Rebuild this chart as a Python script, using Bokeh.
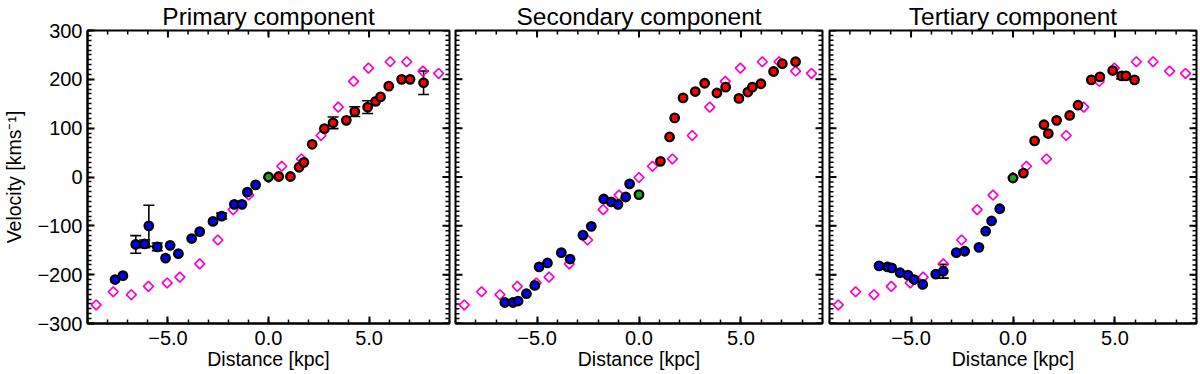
import numpy as np
from bokeh.plotting import figure
from bokeh.models import (Range1d, FixedTicker, LinearAxis, Whisker, TeeHead,
                          ColumnDataSource)
from bokeh.layouts import row
from bokeh.embed import file_html
from bokeh.resources import INLINE

# ---------------- data ----------------
titles = ["Primary component", "Secondary component", "Tertiary component"]
x_title = "Distance [kpc]"
y_title = "Velocity [kms⁻¹]"

# rotation-curve reference (magenta diamonds), same in every panel
model_x = [-8.57, -7.72, -6.82, -5.97, -5.04, -4.41, -3.42, -2.52, -1.76, -0.98, 0.0,
           0.66, 1.64, 2.61, 3.47, 4.23, 4.97, 6.05, 6.87, 7.68, 8.46]
model_v = [-262, -235, -241, -224, -217, -205, -178, -129, -67, -37, -1,
           22, 37, 85, 143, 196, 223, 236, 236, 217, 212]

# primary component
prim_x = [-7.63, -7.24, -6.60, -6.16, -5.95, -5.53, -5.12, -4.89, -4.48, -3.82, -3.42,
          -2.76, -2.33, -1.70, -1.32, -1.05, -0.64, 0.0, 0.51, 1.09, 1.52, 1.76, 2.17,
          2.78, 3.21, 3.87, 4.29, 4.93, 5.33, 5.57, 5.98, 6.62, 7.04, 7.71]
prim_v = [-210, -202, -138, -137, -100, -143, -166, -140, -157, -126, -112,
          -91, -80, -56, -56, -31, -16, 0, 1, 1, 20, 30, 67,
          99, 111, 116, 134, 143, 155, 164, 186, 200, 200, 193]
prim_e = [0, 0, 18, 8, 42, 8, 0, 0, 0, 0, 0,
          0, 6, 0, 0, 0, 0, 0, 0, 0, 0, 0, 0,
          0, 12, 0, 10, 13, 0, 0, 0, 0, 0, 24]

# secondary component
sec_x = [-6.58, -6.18, -5.93, -5.52, -5.11, -4.90, -4.49, -3.81, -3.38, -2.75, -2.34,
         -1.73, -1.36, -1.03, -0.65, -0.46, 0.0, 1.05, 1.50, 1.75, 2.16, 2.76, 3.22,
         3.82, 4.25, 4.90, 5.34, 5.56, 5.98, 6.60, 7.03, 7.68]
sec_v = [-257, -257, -254, -239, -222, -184, -176, -155, -168, -119, -101,
         -45, -51, -56, -41, -14, -36, 32, 82, 121, 162, 175, 192,
         172, 184, 161, 174, 184, 191, 216, 232, 236]
sec_e = [0] * len(sec_x)

# tertiary component
ter_x = [-6.57, -6.16, -5.95, -5.54, -5.15, -4.85, -4.43, -3.79, -3.42, -2.78, -2.37,
         -1.67, -1.34, -1.05, -0.65, 0.0, 0.51, 1.06, 1.52, 1.73, 2.14, 2.78, 3.19,
         3.84, 4.26, 4.89, 5.33, 5.54, 5.96]
ter_v = [-182, -184, -186, -196, -201, -210, -220, -199, -193, -155, -152,
         -144, -111, -90, -65, -2, 8, 74, 107, 89, 116, 126, 147,
         199, 205, 218, 207, 207, 199]
ter_e = [0, 0, 0, 0, 0, 0, 0, 0, 14, 0, 0,
         0, 0, 0, 0, 0, 0, 0, 0, 0, 0, 0, 0,
         0, 0, 0, 6, 0, 0]

x_major = [-5, 0, 5]
x_labels = ["−5.0", "0.0", "5.0"]
x_minor = list(range(-9, 10))
y_major = [-300, -200, -100, 0, 100, 200, 300]
y_labels = ["−300", "−200", "−100", "0", "100", "200", "300"]
y_minor = list(range(-300, 301, 10))

# ---------------- style ----------------
FONT = "Liberation Sans"
TICK_FS = "20px"
LABEL_FS = "19.5px"
BLUE, RED, GREEN, PINK = "#0000FF", "#FF0000", "#1FA01F", "#FF00CC"
XR, YR = (-9, 9), (-300, 300)
MAJ, MIN = 7, 4
FW = 367
H = 374


def style_axis(ax, ticker, overrides):
    ax.ticker = ticker
    ax.axis_line_width = 2
    ax.axis_line_color = "black"
    ax.major_tick_in = MAJ
    ax.major_tick_out = 0
    ax.minor_tick_in = MIN
    ax.minor_tick_out = 0
    ax.major_tick_line_width = 2
    ax.minor_tick_line_width = 1.5
    ax.major_tick_line_color = "black"
    ax.minor_tick_line_color = "black"
    ax.major_label_text_font = FONT
    ax.major_label_text_font_size = TICK_FS
    ax.major_label_text_color = "black"
    ax.major_label_text_line_height = 1.0
    ax.major_label_overrides = overrides
    ax.axis_label_text_font = FONT
    ax.axis_label_text_font_size = LABEL_FS
    ax.axis_label_text_font_style = "normal"
    ax.axis_label_text_color = "black"
    ax.axis_label_text_line_height = 1.0


def edge_ticks(p, side):
    # inward ticks on a frame edge: dash markers centred on the edge,
    # the outer half is clipped away by the frame
    if side == "top":
        y0 = YR[1]
        p.scatter(x_major, [y0] * len(x_major), marker="dash", size=2 * MAJ,
                  angle=np.pi / 2, line_color="black", line_width=2)
        p.scatter(x_minor, [y0] * len(x_minor), marker="dash", size=2 * MIN,
                  angle=np.pi / 2, line_color="black", line_width=1.5)
    else:
        x0 = XR[0] if side == "left" else XR[1]
        p.scatter([x0] * len(y_major), y_major, marker="dash", size=2 * MAJ,
                  line_color="black", line_width=2)
        p.scatter([x0] * len(y_minor), y_minor, marker="dash", size=2 * MIN,
                  line_color="black", line_width=1.5)


def make_panel(idx, xs, vs, es):
    first = idx == 0
    ml = [82, 3, 4][idx]
    mr = [3, 3, 4][idx]
    p = figure(output_backend="svg", toolbar_location=None,
               x_range=Range1d(*XR), y_range=Range1d(*YR),
               width=ml + FW + mr, height=H,
               min_border_left=ml, min_border_right=mr,
               min_border_top=28, min_border_bottom=51,
               x_axis_type=None, y_axis_type=None)
    p.title.text = titles[idx]
    p.title.align = "center"
    p.title.text_font = FONT
    p.title.text_font_size = "24.5px"
    p.title.text_font_style = "normal"
    p.title.text_color = "black"
    p.title.text_line_height = 1.0
    p.title.standoff = 1
    p.title.offset = 0
    p.outline_line_color = "black"
    p.outline_line_width = 2
    p.background_fill_color = "white"
    p.border_fill_color = "white"

    below = LinearAxis()
    style_axis(below, FixedTicker(ticks=x_major, minor_ticks=x_minor),
               {t: l for t, l in zip(x_major, x_labels)})
    below.major_label_standoff = 7
    below.axis_label = x_title
    below.axis_label_standoff = 0
    p.add_layout(below, "below")

    if first:
        left = LinearAxis()
        style_axis(left, FixedTicker(ticks=y_major, minor_ticks=y_minor),
                   {t: l for t, l in zip(y_major, y_labels)})
        left.major_label_standoff = 5
        left.axis_label = y_title
        left.axis_label_standoff = 9
        p.add_layout(left, "left")
    else:
        edge_ticks(p, "left")
    edge_ticks(p, "right")
    edge_ticks(p, "top")

    # model diamonds
    p.scatter(model_x, model_v, marker="square", size=7, angle=np.pi / 4,
              fill_color=None, line_color=PINK, line_width=1.7)

    # error bars
    ex = [x for x, e in zip(xs, es) if e > 0]
    eu = [v + e for v, e in zip(vs, es) if e > 0]
    el = [v - e for v, e in zip(vs, es) if e > 0]
    if ex:
        src = ColumnDataSource(dict(x=ex, upper=eu, lower=el))
        w = Whisker(source=src, base="x", upper="upper", lower="lower",
                    dimension="height", line_color="black", line_width=1.6,
                    upper_head=TeeHead(size=11, line_width=1.6, line_color="black"),
                    lower_head=TeeHead(size=11, line_width=1.6, line_color="black"))
        p.add_layout(w)

    colors = [BLUE if x < 0 else (GREEN if x == 0 else RED) for x in xs]
    src = ColumnDataSource(dict(x=xs, v=vs, c=colors))
    p.scatter("x", "v", source=src, size=8.5, fill_color="c",
              line_color="black", line_width=2.3)
    return p


p = row(make_panel(0, prim_x, prim_v, prim_e),
        make_panel(1, sec_x, sec_v, sec_e),
        make_panel(2, ter_x, ter_v, ter_e))

open("out.html", "w").write(file_html(p, INLINE))
